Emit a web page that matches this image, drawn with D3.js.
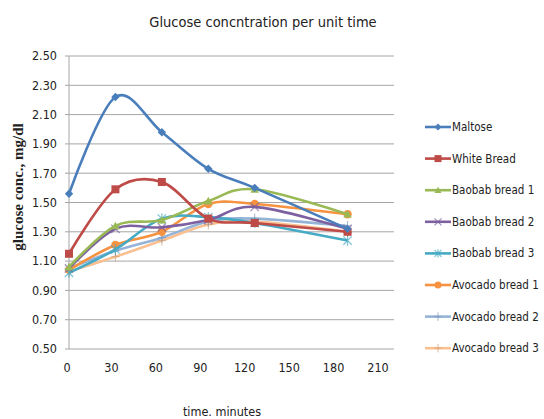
<!DOCTYPE html>
<html>
<head>
<meta charset="utf-8">
<script src="https://cdn.jsdelivr.net/npm/d3@7"></script>
<style>
  body { margin: 0; background: #fff; }
  svg { display: block; font-family: "Liberation Sans Narrow", "DejaVu Sans Condensed", "DejaVu Sans", sans-serif; }
</style>
</head>
<body>
<div id="chart"></div>
<script>
// Glucose readings (mg/dl) over time
const times = [0, 30, 60, 90, 120, 180];
const seriesNames = ["Maltose", "White Bread", "Baobab bread 1", "Baobab bread 2",
  "Baobab bread 3", "Avocado bread 1", "Avocado bread 2", "Avocado bread 3"];
const maltose     = [1.56, 2.22, 1.98, 1.73, 1.60, 1.32];
const whiteBread  = [1.15, 1.59, 1.64, 1.39, 1.36, 1.30];
const baobab1     = [1.06, 1.34, 1.38, 1.51, 1.59, 1.42];
const baobab2     = [1.05, 1.32, 1.33, 1.38, 1.47, 1.32];
const baobab3     = [1.02, 1.18, 1.39, 1.40, 1.36, 1.24];
const avocado1    = [1.04, 1.21, 1.30, 1.49, 1.49, 1.42];
const avocado2    = [1.05, 1.17, 1.26, 1.37, 1.39, 1.34];
const avocado3    = [1.03, 1.13, 1.24, 1.35, 1.37, 1.30];
const xTicks = [0, 30, 60, 90, 120, 150, 180, 210];
const yTicks = [0.5, 0.7, 0.9, 1.1, 1.3, 1.5, 1.7, 1.9, 2.1, 2.3, 2.5];

const allValues = [maltose, whiteBread, baobab1, baobab2, baobab3, avocado1, avocado2, avocado3];
const colors = ["#4a7ebb", "#be4b48", "#98b954", "#7d60a0", "#46aac5", "#f69240", "#95b3d7", "#fac090"];
const markers = ["diamond", "square", "triangle", "x", "star", "circle", "plus", "plus"];

const width = 544, height = 419;
const plot = { left: 69, right: 394, top: 56, bottom: 349 };

const svg = d3.select("#chart").append("svg")
  .attr("width", width).attr("height", height);

const x = d3.scaleLinear().domain([0, 210]).range([plot.left, plot.right]);
const y = d3.scaleLinear().domain([0.5, 2.5]).range([plot.bottom, plot.top]);
// the tick labels in the reference sit a little left of the real grid positions
const xLabel = d3.scaleLinear().domain([0, 210]).range([67, 378]);

// gridlines
svg.append("g")
  .selectAll("line")
  .data(yTicks)
  .join("line")
  .attr("x1", plot.left).attr("x2", plot.right)
  .attr("y1", d => y(d)).attr("y2", d => y(d))
  .attr("stroke", "#a6a6a6").attr("stroke-width", 1);

// axis lines
svg.append("line")
  .attr("x1", plot.left).attr("x2", plot.left)
  .attr("y1", plot.top).attr("y2", plot.bottom)
  .attr("stroke", "#a6a6a6");
svg.append("g")
  .selectAll("line")
  .data(yTicks)
  .join("line")
  .attr("x1", plot.left - 4).attr("x2", plot.left)
  .attr("y1", d => y(d)).attr("y2", d => y(d))
  .attr("stroke", "#a6a6a6");

// y tick labels
svg.append("g")
  .selectAll("text")
  .data(yTicks)
  .join("text")
  .attr("x", 57).attr("y", d => y(d))
  .attr("dy", "0.35em")
  .attr("text-anchor", "end")
  .attr("font-size", 12.5)
  .attr("fill", "#222")
  .text(d => d3.format(".2f")(d));

// x tick labels
svg.append("g")
  .selectAll("text")
  .data(xTicks)
  .join("text")
  .attr("x", d => xLabel(d)).attr("y", 368)
  .attr("dy", "0.35em")
  .attr("text-anchor", "middle")
  .attr("font-size", 12.5)
  .attr("fill", "#222")
  .text(d => d);

// titles
svg.append("text")
  .attr("x", 263).attr("y", 22)
  .attr("dy", "0.35em")
  .attr("text-anchor", "middle")
  .attr("font-size", 14.5)
  .attr("fill", "#222")
  .text("Glucose concntration per unit time");

svg.append("text")
  .attr("x", 222).attr("y", 412)
  .attr("dy", "0.35em")
  .attr("text-anchor", "middle")
  .attr("font-size", 12.5)
  .attr("fill", "#222")
  .text("time. minutes");

svg.append("text")
  .attr("transform", "translate(18,187) rotate(-90)")
  .attr("dy", "0.35em")
  .attr("text-anchor", "middle")
  .attr("font-family", "'Liberation Serif', 'DejaVu Serif', serif")
  .attr("font-weight", "bold")
  .attr("font-size", 15)
  .attr("fill", "#222")
  .text("glucose conc., mg/dl");

// marker drawing
function drawMarker(sel, type, color, size) {
  const s = size;
  if (type === "diamond") {
    sel.append("path").attr("d", `M0,${-s}L${s},0L0,${s}L${-s},0Z`).attr("fill", color);
  } else if (type === "square") {
    sel.append("rect").attr("x", -s).attr("y", -s).attr("width", 2 * s).attr("height", 2 * s).attr("fill", color);
  } else if (type === "triangle") {
    sel.append("path").attr("d", `M0,${-s}L${s},${s * 0.8}L${-s},${s * 0.8}Z`).attr("fill", color);
  } else if (type === "circle") {
    sel.append("circle").attr("r", s).attr("fill", color);
  } else if (type === "x") {
    sel.append("path").attr("d", `M${-s},${-s}L${s},${s}M${-s},${s}L${s},${-s}`)
      .attr("stroke", color).attr("stroke-width", 1.2).attr("opacity", 0.7);
  } else if (type === "star") {
    sel.append("path").attr("d", `M${-s},${-s}L${s},${s}M${-s},${s}L${s},${-s}M0,${-s * 1.2}L0,${s * 1.2}`)
      .attr("stroke", color).attr("stroke-width", 1.2).attr("opacity", 0.7);
  } else if (type === "plus") {
    sel.append("path").attr("d", `M0,${-s * 1.2}L0,${s * 1.2}M${-s},0L${s},0`)
      .attr("stroke", d3.color(color).darker(0.5)).attr("stroke-width", 1).attr("opacity", 0.7);
  }
}

const line = d3.line()
  .x((d, i) => x(times[i]))
  .y(d => y(d))
  .curve(d3.curveCardinal.tension(0));

// series drawn in reverse so Maltose ends on top
const order = d3.range(allValues.length).reverse();
order.forEach(k => {
  svg.append("path")
    .datum(allValues[k])
    .attr("fill", "none")
    .attr("stroke", colors[k])
    .attr("stroke-width", 2.6)
    .attr("stroke-linejoin", "round")
    .attr("d", line);
  allValues[k].forEach((v, i) => {
    const g = svg.append("g").attr("transform", `translate(${x(times[i])},${y(v)})`);
    drawMarker(g, markers[k], colors[k], markers[k] === "square" ? 4 : 4.2);
  });
});

// legend
const legend = svg.append("g");
seriesNames.forEach((name, k) => {
  const ly = 127 + k * 31.6;
  legend.append("line")
    .attr("x1", 425).attr("x2", 451).attr("y1", ly).attr("y2", ly)
    .attr("stroke", colors[k]).attr("stroke-width", 2.6);
  const g = legend.append("g").attr("transform", `translate(438,${ly})`);
  drawMarker(g, markers[k], colors[k], 3.5);
  legend.append("text")
    .attr("x", 452).attr("y", ly)
    .attr("dy", "0.35em")
    .attr("font-size", 11.5)
    .attr("fill", "#222")
    .text(name);
});
</script>
</body>
</html>
